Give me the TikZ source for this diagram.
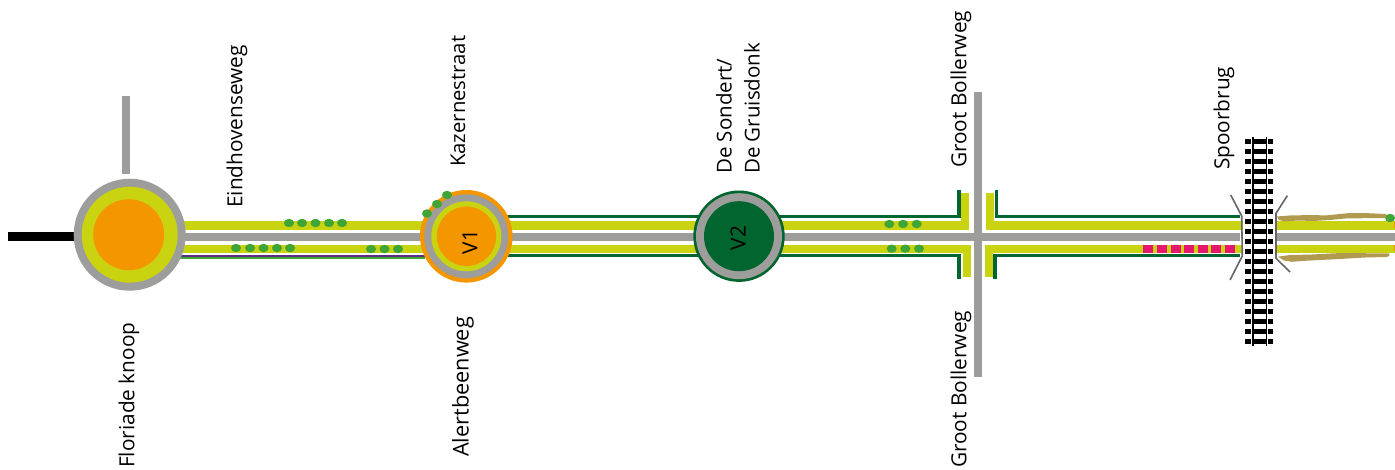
\documentclass[tikz,border=0pt]{standalone}
\usepackage{fontspec}
\setmainfont{Open Sans}
\definecolor{geel}{HTML}{C9D30F}
\definecolor{grijs}{HTML}{9D9D9C}
\definecolor{oranje}{HTML}{F39600}
\definecolor{dgroen}{HTML}{00652E}
\definecolor{lgroen}{HTML}{3FA535}
\definecolor{paars}{HTML}{5C2D83}
\definecolor{roze}{HTML}{E5176F}
\definecolor{bruin}{HTML}{B09A50}
\definecolor{wing}{HTML}{666666}
\tikzset{
  lbl/.style={rotate=90,anchor=west,font=\fontsize{20.8}{25}\selectfont,inner sep=0pt,align=left},
  dot/.style={fill=lgroen,draw=none},
  yband/.style={line width=8.2pt,draw=geel},
  gband/.style={line width=8pt,draw=grijs},
  dline/.style={line width=3.6pt,draw=dgroen},
  wingline/.style={line width=1.6pt,draw=wing,line join=round},
  tie/.style={fill=black,draw=none},
  pink/.style={fill=roze,draw=none},
  strip/.style={fill=bruin,draw=none}
}
\begin{document}
\begin{tikzpicture}[x=1pt,y=-1pt]
\useasboundingbox (0,0) rectangle (1395,470);
\fill[white] (0,0) rectangle (1395,470);
% roads
\draw[gband] (180,236.6) -- (1240,236.6);
\draw[gband] (1277,236.6) -- (1395,236.6);
\draw[gband] (978.3,92) -- (978.3,377);
\draw[gband] (125.7,96) -- (125.7,174);
\draw[line width=9pt,black] (8,236.8) -- (76,236.8);
% yellow
\draw[yband] (180,225.5) -- (964.9,225.5) -- (964.9,192.7);
\draw[yband] (180,248.7) -- (967,248.7) -- (967,277);
\draw[yband] (990,193) -- (990,225.5) -- (1243,225.5);
\draw[yband] (989,277) -- (989,248.7) -- (1243,248.7);
\draw[yband] (1277,225.5) -- (1395,225.5);
\draw[yband] (1277,248.7) -- (1395,248.7);
\fill[oranje] (1393.6,222.5) rectangle (1395,228);
\fill[oranje] (1393.6,245.5) rectangle (1395,251);
% purple and green under left section
\draw[line width=2pt,paars] (180,255.8) -- (425,255.8);
\draw[line width=1.8pt,lgroen] (180,257.8) -- (425,257.8);
% dark green
\draw[dline] (505,216.7) -- (959,216.7) -- (959,190);
\draw[dline] (505,255.7) -- (959,255.7) -- (959,279);
\draw[dline] (996.3,190) -- (996.3,216.7) -- (1240,216.7);
\draw[dline] (995,279) -- (995,255.7) -- (1240,255.7);
% Floriade
\node[circle,fill=grijs,minimum size=112pt,inner sep=0pt] (flor) at (129.7,234.7) {};
\node[circle,fill=geel,minimum size=96pt,inner sep=0pt] (florg) at (129.7,234.7) {};
\node[circle,fill=oranje,minimum size=71pt,inner sep=0pt] (floro) at (128.7,234.7) {};
% V1
\node[circle,fill=oranje,minimum size=92.6pt,inner sep=0pt] (v1a) at (466.3,236.3) {};
\node[circle,fill=grijs,minimum size=84pt,inner sep=0pt] (v1b) at (466.3,236.3) {};
\node[circle,fill=geel,minimum size=70pt,inner sep=0pt] (v1c) at (466.3,236.3) {};
\node[circle,fill=oranje,minimum size=59.4pt,inner sep=0pt] (v1d) at (466.5,236.3) {};
\node[rotate=90,font=\fontsize{20.8}{25}\selectfont,inner sep=0pt] (v1t) at (470,242) {V1};
% V2
\node[circle,fill=dgroen,minimum size=91.4pt,inner sep=0pt] (v2a) at (739,236.2) {};
\node[circle,fill=grijs,minimum size=86pt,inner sep=0pt] (v2b) at (739,236.2) {};
\node[circle,fill=dgroen,minimum size=70pt,inner sep=0pt] (v2c) at (739,236.2) {};
\node[rotate=90,font=\fontsize{20.8}{25}\selectfont,inner sep=0pt] (v2t) at (738,238) {V2};
% green dots
\foreach \x/\y in {289/223,302/223,315.5/223,329/223,342/223,
  236/248,250/248,263.5/248,277/248,290/248,
  371/249,384.5/249,398/249,
  427/213.5,437/204,447/195,
  889.3/224,903/224,916.7/224,
  891.7/248.7,905.3/248.7,919/248.7,
  1390/218}
  \fill[dot] (\x,\y) ellipse (5pt and 4.2pt);
% pink squares
\foreach \x in {1143.3,1156.9,1170.5,1184,1197.6,1211,1224.6}
  \fill[pink] (\x,245) rectangle ++(10,7.7);
% brown strips
\fill[strip] (1277,216.5) -- (1290,215.5) -- (1313,215) -- (1325,215.5) -- (1338,214.2) -- (1350,213) -- (1368,213.2) -- (1386,214)
  -- (1386,218) -- (1365,218.2) -- (1345,218.5) -- (1330,220) -- (1313,221) -- (1298,220.5) -- (1285,221.5) -- (1279,220) -- cycle;
\fill[strip] (1278,256.7) -- (1290,255) -- (1310,254.6) -- (1337,253.2) -- (1355,252.8) -- (1372,253.5) -- (1389,253.4)
  -- (1389.5,256) -- (1386,257) -- (1365,257.5) -- (1340,259) -- (1320,260) -- (1305,260.8) -- (1292,261.8) -- (1284,260.5) -- cycle;
% wings
\draw[wingline] (1230.7,195) -- (1241.7,216) -- (1242.3,256) -- (1230,280);
\draw[wingline] (1287.3,195.7) -- (1276,213.3) -- (1276,258.3) -- (1290,272);
% railway
\foreach \i in {0,...,20} {
  \fill[tie] (1245,138.6+10*\i) rectangle (1250.7,144.2+10*\i);
  \fill[tie] (1253.5,138.6+10*\i) rectangle (1266,144.2+10*\i);
  \fill[tie] (1268.2,138.6+10*\i) rectangle (1273,144.2+10*\i);
}
\draw[line width=1.3pt,black] (1253,137) -- (1253,346);
\draw[line width=1.3pt,black] (1266.2,137) -- (1266.2,346);
% labels
\node[lbl] (t1) at (129,468) {Floriade knoop};
\node[lbl] (t2) at (237,208) {Eindhovenseweg};
\node[lbl,font=\fontsize{20.3}{25}\selectfont] (t3) at (458,167) {Kazernestraat};
\node[lbl,font=\fontsize{21.7}{25}\selectfont] (t4) at (463,457) {Alertbeenweg};
\node[lbl,font=\fontsize{20.5}{25}\selectfont] (t5a) at (724,174) {De Sondert/};
\node[lbl,font=\fontsize{20.5}{25}\selectfont] (t5b) at (752,174) {De Gruisdonk};
\node[lbl] (t6) at (961,168) {Groot Bollerweg};
\node[lbl] (t7) at (961,468) {Groot Bollerweg};
\node[lbl] (t8) at (1224,170) {Spoorbrug};
\end{tikzpicture}
\end{document}
